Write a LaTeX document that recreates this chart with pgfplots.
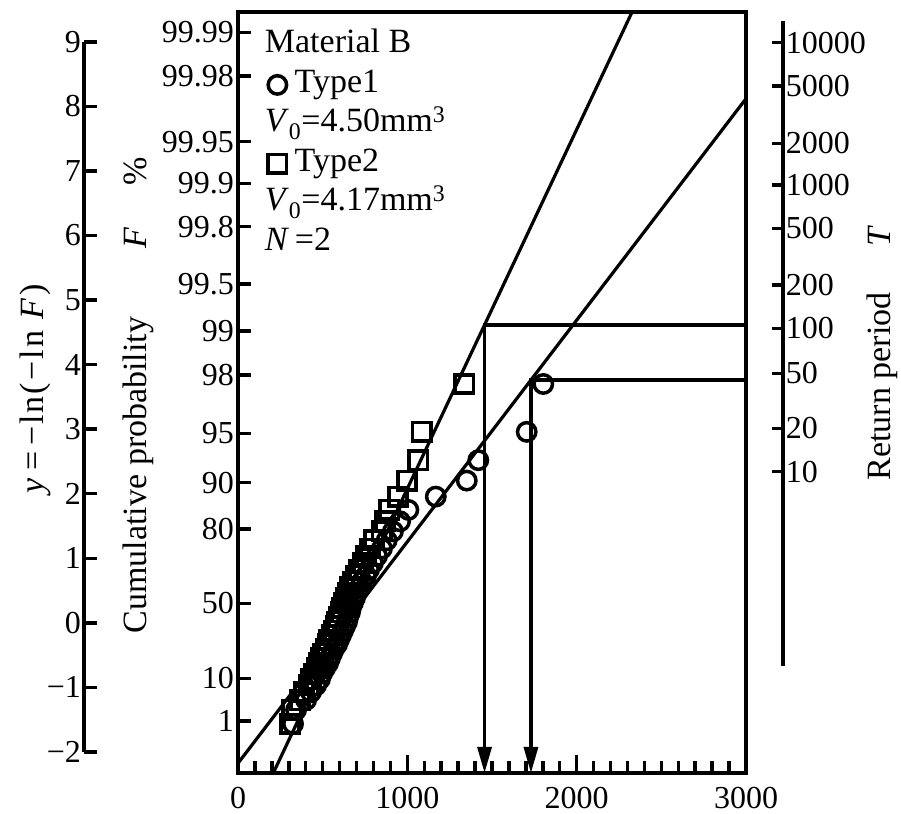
\documentclass[border=0pt]{standalone}
\usepackage{fontspec}
\setmainfont{Liberation Serif}
\usepackage{pgfplots}
\pgfplotsset{compat=1.18}
\usepackage{pgfplotstable}
\usetikzlibrary{arrows.meta}

\newcommand{\tf}{\fontsize{32bp}{36bp}\selectfont}
\newcommand{\lf}{\fontsize{34bp}{40bp}\selectfont}
\newcommand{\gf}{\fontsize{34bp}{38bp}\selectfont}

% rank i, reduced variate y, Type1 value (circles), Type2 value (squares)
\pgfplotstableread{
i y xc xs
1 -1.564 325 307
2 -1.347 343 319
3 -1.195 402 366
4 -1.073 431 390
5 -0.967 461 419
6 -0.872 484 431
7 -0.784 496 449
8 -0.702 514 467
9 -0.623 532 478
10 -0.548 543 490
11 -0.474 555 502
12 -0.402 567 520
13 -0.332 585 531
14 -0.261 596 537
15 -0.192 608 555
16 -0.122 620 567
17 -0.052 632 579
18 0.018 644 585
19 0.090 650 596
20 0.162 661 608
21 0.236 667 614
22 0.312 679 626
23 0.389 691 638
24 0.470 703 650
25 0.553 720 661
26 0.640 732 679
27 0.731 756 697
28 0.826 774 715
29 0.928 797 738
30 1.036 821 756
31 1.152 850 780
32 1.279 878 803
33 1.418 915 849
34 1.573 957 868
35 1.750 1006 894
36 1.956 1168 945
37 2.204 1351 998
38 2.520 1419 1065
39 2.959 1705 1084
40 3.700 1803 1335
}\ranks

\begin{document}
\begin{tikzpicture}
\useasboundingbox (0,0) rectangle (901bp,814bp);

% left reduced-variate axis
\begin{axis}[
  at={(84bp,62bp)}, anchor=south west, scale only axis,
  width=20bp, height=710.2bp,
  xmin=0, xmax=1, ymin=-2, ymax=9,
  axis x line=none, axis y line*=left,
  axis line style={line width=3.8bp},
  tick style={line width=3.5bp, black},
  tick align=inside, major tick length=13bp,
  ytick={-2,-1,0,1,2,3,4,5,6,7,8,9},
  yticklabels={−2,−1,0,1,2,3,4,5,6,7,8,9},
  yticklabel style={font=\tf, inner xsep=3bp},
]
\end{axis}

% right return-period axis
\begin{axis}[
  at={(782.7bp,148bp)}, anchor=south east, scale only axis,
  width=20bp, height=645bp,
  xmin=0, xmax=1, ymin=-0.6675, ymax=9.322,
  axis x line=none, axis y line*=right,
  axis line style={line width=3.8bp},
  tick style={line width=3.5bp, black},
  tick align=inside, major tick length=11bp,
  ytick={2.342,3.014,3.866,4.562,5.233,6.111,6.782,7.428,8.315,8.986},
  yticklabels={10,20,50,100,200,500,1000,2000,5000,10000},
  yticklabel style={font=\tf, inner xsep=3bp},
]
\end{axis}

% main axis
\begin{axis}[
  at={(238bp,41bp)}, anchor=south west, scale only axis,
  width=508bp, height=761.3bp,
  xmin=0, xmax=3000, ymin=-2.3246, ymax=9.4657,
  axis line style={line width=3.8bp},
  tick style={line width=3.5bp, black},
  tick align=inside, tick pos=left,
  xtick={0,1000,2000,3000},
  xticklabels={0,1000,2000,3000},
  minor xtick={100,200,...,2900},
  major tick length=17.5bp, minor tick length=12bp,
  xticklabel style={font=\tf, inner ysep=14bp},
  ytick=\empty,
  extra y ticks={9.147,8.470,7.452,6.808,6.136,5.249,4.521,3.839,2.936,2.171,1.454,0.304,-0.858,-1.519},
  extra y tick labels={99.99,99.98,99.95,99.9,99.8,99.5,99,98,95,90,80,50,10,1},
  extra y tick style={major tick length=13bp, yticklabel style={font=\tf, inner xsep=4bp}},
  legend cell align=left,
  legend style={draw=none, fill=none, at={(rel axis cs:0,1)}, anchor=north west,
    xshift=30bp, yshift=-18bp, font=\gf, inner sep=0pt, row sep=8.5bp, column sep=8bp,
    nodes={inner sep=0pt, text height=23bp, text depth=8bp}},
]
\addlegendimage{empty legend}
\addlegendimage{black, only marks, mark=o, mark size=9.2bp, line width=3.5bp}
\addlegendimage{empty legend}
\addlegendimage{black, only marks, mark=square, mark size=9.2bp, line width=3.5bp}
\addlegendimage{empty legend}
\addlegendimage{empty legend}
\legend{\hspace*{-29.7bp}Material B, Type1,
  \hspace*{-29.7bp}\textit{V}\textsubscript{0}=4.50mm\textsuperscript{3},
  Type2,
  \hspace*{-29.7bp}\textit{V}\textsubscript{0}=4.17mm\textsuperscript{3},
  \hspace*{-29.7bp}\textit{N}\,=2}

\addplot[black, only marks, mark=o, mark size=9.2bp, line width=3.5bp] table[x=xc, y=y] {\ranks};
\addplot[black, only marks, mark=square, mark size=9.2bp, line width=3.5bp] table[x=xs, y=y] {\ranks};
\addplot[black, no markers, line width=3.2bp] coordinates {(208.5,-2.3246) (2328,9.4657)};
\addplot[black, no markers, line width=3.2bp] coordinates {(0,-2.174) (3000,8.119)};
\addplot[black, no markers, line width=3.2bp, -{Triangle[length=26bp,width=14bp]}] coordinates {(3000,4.614) (1456,4.614) (1456,-2.3246)};
\addplot[black, no markers, line width=3.2bp, -{Triangle[length=26bp,width=14bp]}] coordinates {(3000,3.762) (1730,3.762) (1730,-2.3246)};
\end{axis}

% axis titles
\node[rotate=90, anchor=base, font=\lf] at (43.3bp,425bp) {\addfontfeatures{LetterSpace=6}\textit{y}\,=\,−ln(−ln\hspace{0.35em}\textit{F})};
\node[rotate=90, anchor=base, font=\lf] at (146.7bp,339bp) {Cumulative probability};
\node[rotate=90, anchor=base, font=\lf] at (146.7bp,576.5bp) {\textit{F}};
\node[rotate=90, anchor=base, font=\lf] at (146.7bp,642.3bp) {\%};
\node[rotate=90, anchor=base, font=\lf] at (890bp,427.5bp) {Return period};
\node[rotate=90, anchor=base, font=\lf] at (890bp,578bp) {\textit{T}};
\end{tikzpicture}
\end{document}
